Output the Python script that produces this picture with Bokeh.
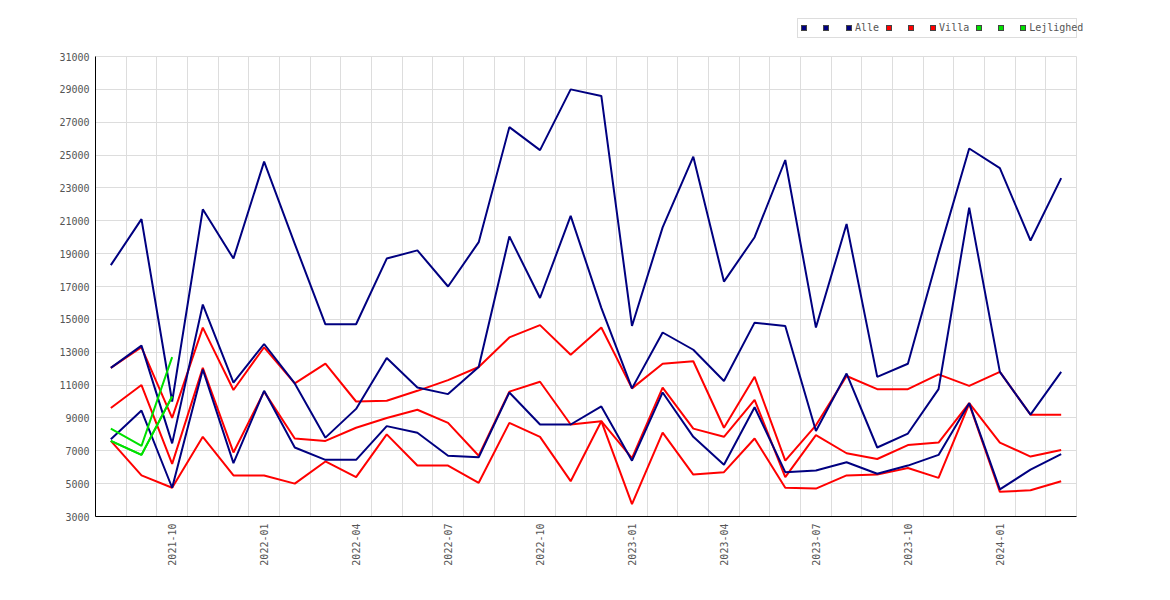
import math
from bokeh.plotting import figure
from bokeh.layouts import column
from bokeh.models import (FixedTicker, Range1d, ColumnDataSource, Div)
from bokeh.embed import file_html
from bokeh.resources import INLINE

# ---------------- data ----------------
months = ["2021-08", "2021-09", "2021-10", "2021-11", "2021-12",
          "2022-01", "2022-02", "2022-03", "2022-04", "2022-05", "2022-06",
          "2022-07", "2022-08", "2022-09", "2022-10", "2022-11", "2022-12",
          "2023-01", "2023-02", "2023-03", "2023-04", "2023-05", "2023-06",
          "2023-07", "2023-08", "2023-09", "2023-10", "2023-11", "2023-12",
          "2024-01", "2024-02", "2024-03"]

alle_high = [18300, 21100, 10000, 21700, 18700, 24600, 19600, 14700, 14700, 18700,
             19200, 17000, 19700, 26700, 25300, 29000, 28600, 14600, 20600, 24900,
             17300, 20000, 24700, 14500, 20800, 11500, 12300, 19000, 25400, 24200,
             19800, 23600]
alle_mid = [12050, 13400, 7450, 15900, 11150, 13500, 11100, 7800, 9550, 12650,
            10850, 10450, 12100, 20050, 16300, 21300, 15700, 10800, 14200, 13150,
            11250, 14800, 14600, 8200, 11700, 7200, 8050, 10750, 21800, 11800,
            9200, 11800]
alle_low = [7700, 9450, 4750, 11950, 6250, 10650, 7200, 6450, 6450, 8500,
            8100, 6700, 6600, 10550, 8600, 8600, 9700, 6400, 10550, 7850,
            6150, 9650, 5700, 5800, 6300, 5600, 6100, 6750, 9900, 4650,
            5850, 6800]

villa_high = [12050, 13300, 9000, 14500, 10700, 13300, 11100, 12300, 10000, 10050,
              10650, 11300, 12100, 13900, 14650, 12850, 14500, 10800, 12300, 12450,
              8400, 11500, 6400, 8550, 11550, 10750, 10750, 11650, 10950, 11800,
              9200, 9200]
villa_mid = [9600, 11000, 6200, 12050, 6900, 10600, 7750, 7600, 8400, 9000,
             9500, 8700, 6700, 10600, 11200, 8600, 8800, 6550, 10850, 8350,
             7850, 10100, 5400, 7950, 6850, 6500, 7350, 7500, 9900, 7500,
             6650, 7050]
villa_low = [7600, 5500, 4750, 7850, 5500, 5500, 5000, 6350, 5400, 8000,
             6100, 6100, 5050, 8700, 7850, 5150, 8800, 3750, 8100, 5550,
             5700, 7750, 4750, 4700, 5500, 5550, 5950, 5350, 9850, 4500,
             4600, 5150]

lejl_high = [8350, 7300, 12700]
lejl_mid = [7600, 6750, 10300]
lejl_low = [7600, 6750, 10300]

y_ticks = list(range(3000, 31001, 2000))

series_names = ["Alle", "Villa", "Lejlighed"]
series_colors = ["#000080", "#ff0000", "#00e000"]

FONT = "DejaVu Sans Mono"
W = 1160

# ---------------- main figure ----------------
n = len(months)
x = list(range(n))

p = figure(width=W, height=544, output_backend="svg", toolbar_location=None,
           x_range=Range1d(-0.5, n - 0.5), y_range=Range1d(y_ticks[0], y_ticks[-1]),
           min_border_left=95, min_border_right=84, min_border_top=10,
           min_border_bottom=74)
p.background_fill_color = "white"
p.border_fill_color = "white"
p.outline_line_color = "#dddddd"

p.xgrid.ticker = FixedTicker(ticks=[i + 0.5 for i in range(-1, n)])
p.ygrid.ticker = FixedTicker(ticks=y_ticks)
for g in (p.xgrid, p.ygrid):
    g.grid_line_color = "#dddddd"
    g.grid_line_width = 1

tick_idx = [i for i, m in enumerate(months) if m[5:] in ("01", "04", "07", "10")]
p.xaxis.ticker = FixedTicker(ticks=tick_idx)
p.xaxis.major_label_overrides = {i: months[i] for i in tick_idx}
p.xaxis.major_label_orientation = math.pi / 2
p.yaxis.ticker = FixedTicker(ticks=y_ticks)
for ax in (p.xaxis, p.yaxis):
    ax.axis_line_color = "black"
    ax.axis_line_width = 1
    ax.major_tick_line_color = None
    ax.minor_tick_line_color = None
    ax.major_tick_out = 0
    ax.major_tick_in = 0
    ax.minor_tick_out = 0
    ax.major_label_text_font = FONT
    ax.major_label_text_font_size = "10px"
    ax.major_label_text_color = "#555555"
p.yaxis.major_label_standoff = 6
p.xaxis.major_label_standoff = 7


def draw(vals, color, width):
    src = ColumnDataSource(dict(x=x[:len(vals)], y=vals))
    return p.line("x", "y", source=src, line_color=color, line_width=width)


for vals in (villa_high, villa_mid, villa_low):
    draw(vals, series_colors[1], 2)
for vals in (alle_high, alle_mid, alle_low):
    draw(vals, series_colors[0], 2)
for vals in (lejl_high, lejl_mid, lejl_low):
    draw(vals, series_colors[2], 2)

# ---------------- legend strip above the chart (HTML) ----------------
def square(color, right):
    return ('<span style="flex:none;display:inline-block;box-sizing:border-box;'
            'width:6px;height:6px;border:1px solid #444;background:%s;'
            'margin-right:%dpx;"></span>' % (color, right))

parts = []
for k, (name, col) in enumerate(zip(series_names, series_colors)):
    parts.append(square(col, 16))
    parts.append(square(col, 17 if k == 0 else 16))
    parts.append(square(col, 3))
    parts.append('<span style="flex:none;margin-right:7px;">%s</span>' % name)

legend_html = (
    '<div style="margin-left:797px;margin-top:18px;width:280px;height:20px;'
    'box-sizing:border-box;border:1px solid #dddddd;background:white;'
    'display:flex;align-items:center;padding-left:3px;white-space:nowrap;'
    'overflow:visible;font-family:\'DejaVu Sans Mono\',monospace;font-size:10px;'
    'color:#555555;line-height:12px;">' + "".join(parts) + '</div>'
)
lg = Div(text=legend_html, width=W, height=46, margin=0)

page = column(lg, p, spacing=0)
open("out.html", "w").write(file_html(page, INLINE))
